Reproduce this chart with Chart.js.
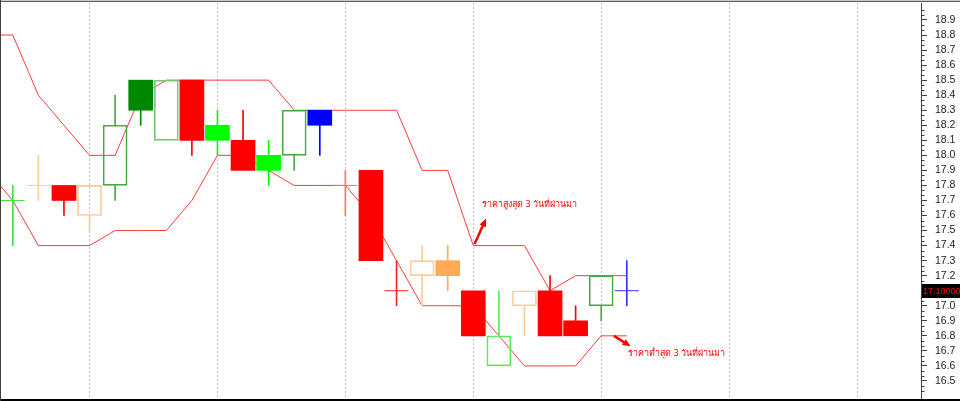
<!DOCTYPE html>
<html><head><meta charset="utf-8">
<script src="https://cdn.jsdelivr.net/npm/chart.js@4.4.0/dist/chart.umd.min.js"></script>
<style>html,body{margin:0;padding:0;background:#fff;overflow:hidden}canvas{display:block}</style>
</head><body>
<canvas id="c" width="960" height="401"></canvas>
<script>
// ---- data ----
const candleIndex = [0,1,2,3,4,5,6,7,8,9,10,11,12,13,14,15,16,17,18,19,20,21,22,23,24];
const openP  = [17.7,17.8,17.8,17.6,17.8,18.5,18.1,18.5,18.2,18.1,18.0,18.0,18.3,17.8,17.9,17.1,17.2,17.3,17.1,16.6,17.0,17.1,16.9,17.0,17.1];
const highP  = [17.8,18.0,17.8,17.8,18.4,18.5,18.5,18.5,18.3,18.3,18.1,18.3,18.3,17.9,17.9,17.3,17.4,17.4,17.1,17.1,17.1,17.2,17.0,17.2,17.3];
const lowP   = [17.4,17.7,17.6,17.5,17.7,18.2,18.1,18.0,18.0,17.9,17.8,17.9,18.0,17.6,17.3,17.0,17.0,17.1,16.8,16.6,16.8,16.8,16.8,16.9,17.0];
const closeP = [17.7,17.8,17.7,17.8,18.2,18.3,18.5,18.1,18.1,17.9,17.9,18.3,18.2,17.8,17.3,17.1,17.3,17.2,16.8,16.8,17.1,16.8,16.8,17.2,17.1];
// highest / lowest of the previous 3 days (first value belongs to the bar before index 0)
const lineIndex = [-1,0,1,2,3,4,5,6,7,8,9,10,11,12,13,14,15,16,17,18,19,20,21,22,23,24];
const high3Days = [18.8,18.8,18.4,18.2,18.0,18.0,18.4,18.5,18.5,18.5,18.5,18.5,18.3,18.3,18.3,18.3,18.3,17.9,17.9,17.4,17.4,17.4,17.1,17.2,17.2,17.2];
const low3Days  = [17.9,17.7,17.4,17.4,17.4,17.5,17.5,17.5,17.7,18.0,18.0,17.9,17.8,17.8,17.8,17.6,17.3,17.0,17.0,17.0,16.8,16.6,16.6,16.6,16.8,16.8];
const yTickLabels = ['16.5','16.6','16.7','16.8','16.9','17.0','17.1','17.2','17.3','17.4','17.5','17.6','17.7','17.8','17.9','18.0','18.1','18.2','18.3','18.4','18.5','18.6','18.7','18.8','18.9'];
const currentPrice = 17.1;
const currentPriceLabel = '17.10000';
const textHigh = 'ราคาสูงสุด 3 วันที่ผ่านมา';
const textLow  = 'ราคาต่ำสุด 3 วันที่ผ่านมา';

// ---- styles ----
const candleColors = ['#44dd44','#ffcc99','#ff0000','#ffc890','#44aa44','#008800','#77c777','#ff0000','#00ff00','#ff0000',
  '#00ff00','#44aa44','#0000ff','#ff7070','#ff0000','#ff2222','#ffcc99','#ffaa55','#ff0000','#55ee55',
  '#ffcc99','#ff0000','#ff0000','#44aa44','#3333ff'];

// ---- derived datasets ----
const bodies = [], bodyBg = [], bodyBorderW = [], bodyBorderC = [];
const upWick = [], loWick = [], wickC = [];
const doji = [], dojiC = [];
candleIndex.forEach((x, i) => {
  const o = openP[i], c = closeP[i], h = highP[i], l = lowP[i];
  const top = Math.max(o, c), bot = Math.min(o, c);
  const col = candleColors[i];
  if (o === c) {
    doji.push({x, y: o}); dojiC.push(col);
    bodies.push({x, y: null});
  } else {
    bodies.push({x, y: [bot, top]});
  }
  const hollow = c > o;
  bodyBg.push(hollow ? 'rgba(0,0,0,0)' : col);
  bodyBorderW.push(hollow ? 1 : 0);
  bodyBorderC.push(col);
  upWick.push({x, y: h > top ? [top, h] : null});
  loWick.push({x, y: l < bot ? [l, bot] : null});
  wickC.push(col);
});

const framePlugin = {
  id: 'frame',
  afterDraw(chart) {
    const ctx = chart.ctx, y = chart.scales.y, x = chart.scales.x;
    ctx.save();
    // minor ticks
    ctx.strokeStyle = '#404040'; ctx.lineWidth = 1;
    const axX = Math.round(chart.chartArea.right) + 0.5;
    for (let k = 0; k <= 78; k++) {
      const v = 16.4 + k * 0.1 / 3;
      if (k % 3 === 0) continue;
      const py = Math.round(y.getPixelForValue(v)) + 0.5;
      if (py < chart.chartArea.top || py > chart.chartArea.bottom) continue;
      ctx.beginPath(); ctx.moveTo(axX, py); ctx.lineTo(axX + 3, py); ctx.stroke();
    }
    // current price box
    const py = y.getPixelForValue(currentPrice);
    ctx.fillStyle = '#000';
    ctx.fillRect(922, Math.round(py) - 7, 38, 14);
    ctx.fillStyle = '#ff0000';
    ctx.font = '9px "Liberation Sans", Arial, sans-serif';
    ctx.textBaseline = 'middle'; ctx.textAlign = 'left';
    ctx.fillText(currentPriceLabel, 923, Math.round(py) + 0.5);
    // annotations
    const arrow = (x1, y1, x2, y2) => {
      const a = Math.atan2(y2 - y1, x2 - x1), L = 8, W = 3.5;
      ctx.strokeStyle = '#ff0000'; ctx.fillStyle = '#ff0000'; ctx.lineWidth = 2.5;
      ctx.beginPath(); ctx.moveTo(x1, y1);
      ctx.lineTo(x2 - Math.cos(a) * L * 0.8, y2 - Math.sin(a) * L * 0.8); ctx.stroke();
      ctx.beginPath(); ctx.moveTo(x2, y2);
      ctx.lineTo(x2 - Math.cos(a) * L - Math.sin(a) * W, y2 - Math.sin(a) * L + Math.cos(a) * W);
      ctx.lineTo(x2 - Math.cos(a) * L + Math.sin(a) * W, y2 - Math.sin(a) * L - Math.cos(a) * W);
      ctx.closePath(); ctx.fill();
    };
    arrow(x.getPixelForValue(18.05), y.getPixelForValue(17.41), x.getPixelForValue(18.5), y.getPixelForValue(17.58));
    arrow(x.getPixelForValue(23.5), y.getPixelForValue(16.8), x.getPixelForValue(24.15), y.getPixelForValue(16.73));
    ctx.fillStyle = '#ff0000';
    ctx.font = '9px "Noto Sans", "DejaVu Sans", sans-serif';
    ctx.textBaseline = 'middle';
    ctx.fillText(textHigh, x.getPixelForValue(18.35), y.getPixelForValue(17.675));
    ctx.fillText(textLow, x.getPixelForValue(24.05), y.getPixelForValue(16.68));
    // frame
    ctx.fillStyle = '#c8c8c8'; ctx.fillRect(0, 0, 960, 1);
    ctx.fillStyle = '#606060'; ctx.fillRect(0, 1, 960, 1);
    ctx.fillStyle = '#000'; ctx.fillRect(0, 399, 960, 2);
    ctx.fillStyle = '#404040'; ctx.fillRect(0, 0, 1, 401);
    ctx.restore();
  }
};

const noPad = s => { s.paddingTop = 0; s.paddingBottom = 0; s.paddingLeft = 0; s.paddingRight = 0; };

new Chart(document.getElementById('c'), {
  type: 'bar',
  data: {
    datasets: [
      { type: 'line', data: lineIndex.map((x, i) => ({x, y: high3Days[i]})), borderColor: '#ff3a3a', borderWidth: 1, pointRadius: 0, tension: 0, order: 5 },
      { type: 'line', data: lineIndex.map((x, i) => ({x, y: low3Days[i]})), borderColor: '#ff3a3a', borderWidth: 1, pointRadius: 0, tension: 0, order: 5 },
      { data: upWick, backgroundColor: wickC, barThickness: 1, grouped: false, order: 2 },
      { data: loWick, backgroundColor: wickC, barThickness: 1, grouped: false, order: 2 },
      { data: bodies, backgroundColor: bodyBg, borderColor: bodyBorderC, borderWidth: bodyBorderW, borderSkipped: false, barThickness: 24, grouped: false, order: 1 },
      { type: 'line', data: doji, showLine: false, pointStyle: 'line', pointRadius: 12, pointBorderWidth: 1, pointBorderColor: dojiC, pointBackgroundColor: dojiC, order: 0 }
    ]
  },
  options: {
    responsive: false, animation: false,
    layout: { autoPadding: false, padding: { top: 3, bottom: 3, left: 0, right: 0 } },
    plugins: { legend: { display: false }, tooltip: { enabled: false } },
    scales: {
      x: {
        type: 'linear', min: -0.5, max: 35.5, offset: false,
        ticks: { display: false },
        grid: { offset: false, color: '#c4c4c4', lineWidth: 1, drawTicks: false },
        border: { display: false, dash: [2, 2] },
        afterBuildTicks: s => { s.ticks = [3, 8, 13, 18, 23, 28, 33].map(v => ({ value: v })); },
        afterFit: s => { s.height = 0; noPad(s); }
      },
      y: {
        type: 'linear', position: 'right', min: 16.3867, max: 19.013,
        afterFit: s => { s.width = 39; noPad(s); },
        afterBuildTicks: s => { s.ticks = yTickLabels.map(t => ({ value: parseFloat(t) })); },
        ticks: { callback: (v) => Number(v).toFixed(1), color: '#222', padding: 8, font: { family: '"Liberation Sans", Arial, sans-serif', size: 10.5 } },
        grid: { drawOnChartArea: false, drawTicks: true, tickLength: 6, color: '#404040' },
        border: { display: true, color: '#404040', width: 1 }
      }
    }
  },
  plugins: [framePlugin]
});
</script>
</body></html>
